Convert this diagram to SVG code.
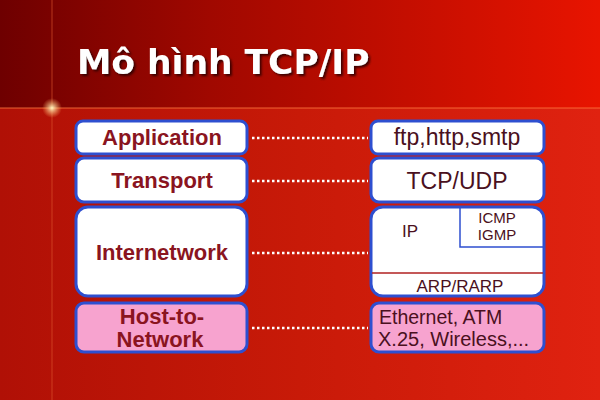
<svg xmlns="http://www.w3.org/2000/svg" width="600" height="400" viewBox="0 0 600 400">
<defs>
<linearGradient id="bgTop" x1="0" y1="0" x2="1" y2="0">
<stop offset="0" stop-color="#6e0000"/>
<stop offset="0.35" stop-color="#a00800"/>
<stop offset="1" stop-color="#e81400"/>
</linearGradient>
<linearGradient id="bgBot" x1="0" y1="0" x2="1" y2="0">
<stop offset="0" stop-color="#b01006"/>
<stop offset="0.5" stop-color="#c81a08"/>
<stop offset="1" stop-color="#e02210"/>
</linearGradient>
<filter id="sh" x="-10%" y="-10%" width="130%" height="140%">
<feDropShadow dx="2" dy="2" stdDeviation="0.8" flood-color="#300000" flood-opacity="0.9"/>
</filter>
<radialGradient id="glow">
<stop offset="0" stop-color="#fff6c0" stop-opacity="1"/>
<stop offset="1" stop-color="#ffb060" stop-opacity="0"/>
</radialGradient>
</defs>
<style>
.box{stroke:#2e4fd0;stroke-width:3}
.w{fill:#ffffff}
.p{fill:#f7a3cf}
.lt{font-family:"Liberation Sans",Arial,sans-serif;font-weight:bold;font-size:22px;fill:#8a1420;text-anchor:middle}
.rt{font-family:"Liberation Sans",Arial,sans-serif;font-size:23px;fill:#4a1020}
.dot{stroke:#ffffff;stroke-width:2.5;stroke-dasharray:2.5 2.5;fill:none}
</style>
<rect x="0" y="0" width="600" height="400" fill="url(#bgBot)"/>
<rect x="0" y="0" width="600" height="108" fill="url(#bgTop)"/>
<line x1="0" y1="108" x2="600" y2="108" stroke="#ff7a40" stroke-width="1.2" opacity="0.8"/>
<line x1="52" y1="0" x2="52" y2="400" stroke="#e05a30" stroke-width="1" opacity="0.6"/>
<circle cx="52" cy="108" r="10" fill="url(#glow)"/>
<text x="77" y="74" font-family="Verdana,'DejaVu Sans',sans-serif" font-weight="bold" font-size="34.5" fill="#ffffff" filter="url(#sh)">Mô hình TCP/IP</text>
<g id="connectors">
<line class="dot" x1="252" y1="138" x2="368" y2="138"/>
<line class="dot" x1="252" y1="181" x2="368" y2="181"/>
<line class="dot" x1="252" y1="253" x2="368" y2="253"/>
<line class="dot" x1="252" y1="328" x2="368" y2="328"/>
</g>
<g id="application">
<rect class="box w" x="76" y="121" width="171" height="33" rx="7"/>
<text class="lt" x="162" y="145">Application</text>
</g>
<g id="transport">
<rect class="box w" x="76" y="158" width="171" height="44" rx="8"/>
<text class="lt" x="162" y="188">Transport</text>
</g>
<g id="internetwork">
<rect class="box w" x="76" y="207" width="171" height="89" rx="12"/>
<text class="lt" x="162" y="260">Internetwork</text>
</g>
<g id="host-to-network">
<rect class="box p" x="76" y="303" width="171" height="49" rx="8"/>
<text class="lt" x="162" y="324">Host-to-</text>
<text class="lt" x="160" y="347">Network</text>
</g>
<g id="ftp">
<rect class="box w" x="371" y="121" width="173" height="33" rx="7"/>
<text class="rt" x="457" y="145" text-anchor="middle">ftp,http,smtp</text>
</g>
<g id="tcpudp">
<rect class="box w" x="371" y="158" width="173" height="44" rx="8"/>
<text class="rt" x="457" y="189" text-anchor="middle">TCP/UDP</text>
</g>
<g id="ip">
<rect class="box w" x="371" y="207" width="173" height="89" rx="12"/>
<polyline points="460,208 460,247 543,247" fill="none" stroke="#2e4fd0" stroke-width="1.5"/>
<line x1="372" y1="273" x2="543" y2="273" stroke="#b02020" stroke-width="1.5"/>
<text class="rt" x="402" y="237" style="font-size:17px">IP</text>
<text class="rt" x="497" y="223" style="font-size:15px" text-anchor="middle">ICMP</text>
<text class="rt" x="497" y="240" style="font-size:15px" text-anchor="middle">IGMP</text>
<text class="rt" x="460" y="292" style="font-size:17px" text-anchor="middle">ARP/RARP</text>
</g>
<g id="ethernet">
<rect class="box p" x="371" y="303" width="173" height="49" rx="8"/>
<text class="rt" x="379" y="324" style="font-size:19.5px">Ethernet, ATM</text>
<text class="rt" x="378" y="346" style="font-size:20px">X.25, Wireless,...</text>
</g>
</svg>
